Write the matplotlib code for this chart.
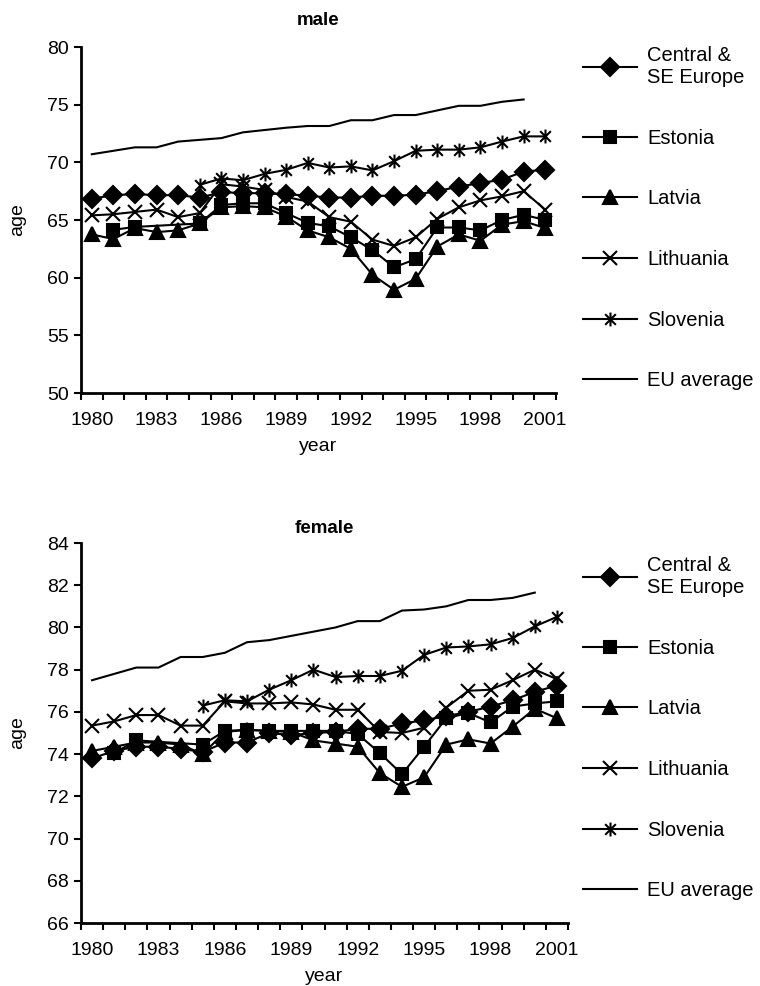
import numpy as np
import matplotlib.pyplot as plt
from matplotlib.path import Path

plt.rcParams['font.family'] = ['Liberation Sans', 'DejaVu Sans']

nan = np.nan
years = np.arange(1980, 2002)
xtick_years = [1980, 1983, 1986, 1989, 1992, 1995, 1998, 2001]
labels = ['Central &\nSE Europe', 'Estonia', 'Latvia', 'Lithuania', 'Slovenia', 'EU average']

# male life expectancy
male_central = [66.85, 67.15, 67.25, 67.15, 67.15, 66.95, 67.4, 67.35, 67.3, 67.25, 67.1,
                66.95, 66.95, 67.1, 67.1, 67.2, 67.5, 67.9, 68.2, 68.5, 69.2, 69.35]
male_estonia = [nan, 64.15, 64.4, nan, nan, 64.7, 66.3, 66.45, 66.45, 65.6, 64.75,
                64.45, 63.5, 62.4, 60.9, 61.6, 64.35, 64.35, 64.1, 65.0, 65.45, 65.0]
male_latvia = [63.75, 63.35, 64.3, 63.95, 64.1, 64.7, 66.1, 66.2, 66.1, 65.3, 64.1,
               63.5, 62.5, 60.25, 58.95, 59.9, 62.7, 63.75, 63.2, 64.6, 64.9, 64.3]
male_lithuania = [65.4, 65.5, 65.7, 65.9, 65.25, 65.6, 68.1, 67.9, 67.6, 67.0, 66.6,
                  65.25, 64.85, 63.3, 62.75, 63.5, 65.1, 66.1, 66.7, 67.05, 67.5, 65.9]
male_slovenia = [nan, nan, nan, nan, nan, 68.05, 68.6, 68.45, 69.0, 69.35, 69.95,
                 69.55, 69.65, 69.3, 70.1, 71.0, 71.1, 71.1, 71.3, 71.8, 72.25, 72.25]
male_eu = [70.7, 71.0, 71.3, 71.3, 71.8, 71.95, 72.1, 72.6, 72.8, 73.0, 73.15,
           73.15, 73.65, 73.65, 74.1, 74.1, 74.5, 74.9, 74.9, 75.25, 75.45, nan]

# female life expectancy
female_central = [73.8, 74.15, 74.35, 74.35, 74.25, 74.1, 74.55, 74.55, 75.0, 74.9, 75.0,
                  75.05, 75.2, 75.2, 75.45, 75.6, 75.8, 76.0, 76.25, 76.55, 76.95, 77.25]
female_estonia = [nan, 74.05, 74.65, nan, nan, 74.45, 75.1, 75.15, 75.1, 75.1, 75.1,
                  75.1, 74.95, 74.05, 73.05, 74.35, 75.7, 75.95, 75.5, 76.25, 76.4, 76.5]
female_latvia = [74.15, 74.35, 74.55, 74.55, 74.45, 74.0, 75.05, 75.15, 75.1, 75.05, 74.65,
                 74.5, 74.35, 73.1, 72.45, 72.9, 74.45, 74.7, 74.5, 75.3, 76.15, 75.7]
female_lithuania = [75.35, 75.55, 75.85, 75.85, 75.35, 75.35, 76.5, 76.4, 76.4, 76.45, 76.35,
                    76.1, 76.1, 75.05, 75.0, 75.25, 76.2, 77.0, 77.05, 77.5, 78.0, 77.55]
female_slovenia = [nan, nan, nan, nan, nan, 76.3, 76.55, 76.5, 77.05, 77.5, 78.0,
                   77.65, 77.7, 77.7, 77.95, 78.7, 79.05, 79.1, 79.2, 79.5, 80.05, 80.5]
female_eu = [77.5, 77.8, 78.1, 78.1, 78.6, 78.6, 78.8, 79.3, 79.4, 79.6, 79.8,
             80.0, 80.3, 80.3, 80.8, 80.85, 81.0, 81.3, 81.3, 81.4, 81.65, nan]

# excel style asterisk: an x with a vertical bar
asterisk = Path([(-1, -1), (1, 1), (-1, 1), (1, -1), (0, -1.3), (0, 1.3)],
                [Path.MOVETO, Path.LINETO] * 3)
markers = [('D', 9), ('s', 8.5), ('^', 9.5), ('x', 10), (asterisk, 10), (None, 0)]

FS = 14
LFS = 14.5


def draw(ax, series, ylim, yticks, title, title_pad, leg_top):
    for vals, lab, (mk, ms) in zip(series, labels, markers):
        v = np.array(vals, dtype=float)
        ok = ~np.isnan(v)
        ax.plot(years[ok], v[ok], color='black', lw=1.5, marker=mk, ms=ms,
                mfc='black', mec='black', mew=1.5, label=lab)
    ax.set_xlim(1979.5, 2001.5)
    ax.set_ylim(*ylim)
    ax.set_yticks(yticks)
    ax.set_xticks(xtick_years)
    ax.set_xticks(np.arange(1979.5, 2002, 1.0), minor=True)
    ax.tick_params(axis='x', which='major', length=0, pad=14, labelsize=FS)
    ax.tick_params(axis='x', which='minor', length=5, width=1.5)
    ax.tick_params(axis='y', length=5, width=1.5, labelsize=FS, pad=4)
    for s in ['top', 'right']:
        ax.spines[s].set_visible(False)
    for s in ['left', 'bottom']:
        ax.spines[s].set_linewidth(2)
    ax.set_xlabel('year', fontsize=FS, labelpad=6)
    ax.set_ylabel('age', fontsize=FS, labelpad=15)
    ax.set_title(title, fontsize=13.5, fontweight='bold', pad=title_pad)
    ax.legend(loc='upper left', bbox_to_anchor=(583 / 760, leg_top),
              bbox_transform=fig.transFigure, frameon=False, fontsize=LFS,
              handlelength=2.7, handletextpad=0.5, labelspacing=2.07,
              borderpad=0, borderaxespad=0)


fig = plt.figure(figsize=(7.6, 9.86), dpi=100)
ax1 = fig.add_axes([81 / 760, 1 - 393 / 986, 475 / 760, 346 / 986])
ax2 = fig.add_axes([81 / 760, 1 - 923 / 986, 487 / 760, 380 / 986])

draw(ax1, [male_central, male_estonia, male_latvia, male_lithuania, male_slovenia, male_eu],
     (50, 80), np.arange(50, 81, 5), 'male', 16, 1 - 46 / 986)
draw(ax2, [female_central, female_estonia, female_latvia, female_lithuania, female_slovenia, female_eu],
     (66, 84), np.arange(66, 85, 2), 'female', 7, 1 - 556 / 986)

fig.savefig('out.png', dpi=100)
